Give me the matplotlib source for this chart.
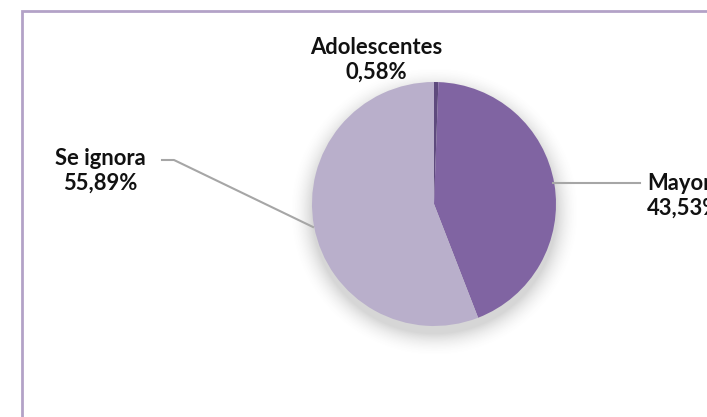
import numpy as np
import matplotlib.pyplot as plt
from matplotlib.patches import Rectangle

categories = ['Adolescentes', 'Mayor', 'Se ignora']
values = [0.58, 43.53, 55.89]
colors = ['#5E4A7D', '#8064A2', '#B9AFCB']

W, H = 707, 417
fig = plt.figure(figsize=(W / 100, H / 100), dpi=100)
ax = fig.add_axes([0, 0, 1, 1])

cx, cy, r = 434, H - 204, 122

# soft drop shadow behind the pie
yy, xx = np.mgrid[0:H, 0:W]
d = np.sqrt((xx - cx) ** 2 + ((H - yy) - (cy - 7)) ** 2) - r
alpha = np.clip(1 - d / 24, 0, 1) ** 2 * 0.25
shadow = np.zeros((H, W, 4))
shadow[..., :3] = 0.35
shadow[..., 3] = alpha
ax.imshow(shadow, extent=(0, W, 0, H), origin='upper', zorder=1)

wedges, _ = ax.pie(values, colors=colors, startangle=90, counterclock=False,
                   center=(cx, cy), radius=r, frame=True,
                   wedgeprops=dict(linewidth=0, zorder=2))
ax.set_xlim(0, W)
ax.set_ylim(0, H)
ax.set_aspect('equal')
ax.axis('off')

# chart border
ax.add_patch(Rectangle((21.5, -20), 720, H - 10.5 + 20, fill=False,
                       edgecolor='#B3A2C7', linewidth=2, zorder=0, clip_on=False))

labels = [f"{c}\n{v:.2f}".replace('.', ',') + '%' for c, v in zip(categories, values)]
font = dict(family='Lato', weight='bold', fontsize=15.8, color='#111111', linespacing=1.25)
ax.text(376, H - 60, labels[0], ha='center', va='center', **font)
ax.text(647, H - 196, labels[1], ha='left', va='center', **font)
ax.text(100, H - 171, labels[2], ha='center', va='center', **font)

# leader lines
lc = dict(color='#A6A6A6', linewidth=1.5, zorder=3)
ax.plot([553, 640], [H - 183, H - 183], **lc)
ax.plot([162, 174, 313], [H - 160, H - 160, H - 227], **lc)

fig.savefig('out.png', dpi=100)
